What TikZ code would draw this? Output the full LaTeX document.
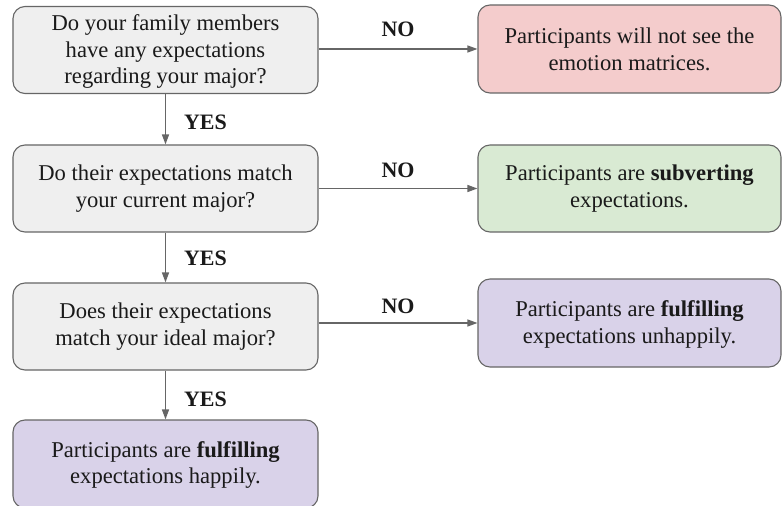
\documentclass[tikz,border=0pt]{standalone}
\usepackage{fontspec}
\setmainfont{Liberation Serif}
\usetikzlibrary{arrows.meta}
\definecolor{qgray}{HTML}{EFEFEF}
\definecolor{qred}{HTML}{F4CCCC}
\definecolor{qgreen}{HTML}{D9EAD3}
\definecolor{qpurple}{HTML}{D9D2E9}
\definecolor{edgegray}{HTML}{666666}
\definecolor{txt}{HTML}{1A1A1A}
\begin{document}
\begin{tikzpicture}[x=1bp,y=-1bp,
  box/.style={draw=edgegray, line width=1.1bp, rounded corners=12bp, inner sep=0pt},
  leftbox/.style={box, minimum width=305bp, minimum height=87bp},
  rightbox/.style={box, minimum width=303bp, minimum height=87bp},
  boxtext/.style={align=center, text=txt, inner sep=0pt, font=\fontsize{22.6bp}{26.7bp}\selectfont},
  conn/.style={draw=edgegray, line width=1.3bp, -{Triangle[length=10bp,width=7bp]}},
  lab/.style={font=\fontsize{22bp}{24bp}\selectfont\bfseries, text=txt, inner sep=0pt}
]
\useasboundingbox (0,0) rectangle (782,506);
\node[leftbox, fill=qgray] (b1) at (165.5,50) {};
\node[leftbox, fill=qgray] (b2) at (165.5,188.5) {};
\node[leftbox, fill=qgray] (b3) at (165.5,326.5) {};
\node[leftbox, fill=qpurple, minimum height=88bp] (b4) at (165.5,464) {};
\node[rightbox, fill=qred, minimum height=88bp] (r1) at (629.5,49) {};
\node[rightbox, fill=qgreen] (r2) at (629.5,188.5) {};
\node[rightbox, fill=qpurple, minimum height=88bp] (r3) at (629.5,323) {};
\node[boxtext] (t1) at ([yshift=-1.5bp]b1.center) {Do your family members\\have any expectations\\regarding your major?};
\node[boxtext] (t2) at (b2.center) {Do their expectations match\\your current major?};
\node[boxtext] (t3) at (b3.center) {Does their expectations\\match your ideal major?};
\node[boxtext] (t4) at ([yshift=-1bp]b4.center) {Participants are \textbf{fulfilling}\\expectations happily.};
\node[boxtext] (s1) at (r1.center) {Participants will not see the\\emotion matrices.};
\node[boxtext] (s2) at (r2.center) {Participants are \textbf{subverting}\\expectations.};
\node[boxtext] (s3) at ([yshift=-1.5bp]r3.center) {Participants are \textbf{fulfilling}\\expectations unhappily.};
\draw[conn] (r1.west -| b1.east) -- node[lab, midway, yshift=20bp] (n1) {NO} (r1.west);
\draw[conn] (r2.west -| b2.east) -- node[lab, midway, yshift=18bp] (n2) {NO} (r2.west);
\draw[conn] (r3.west -| b3.east) -- node[lab, midway, yshift=17bp] (n3) {NO} (r3.west);
\draw[conn] (b1.south) -- node[lab, midway, xshift=40bp, yshift=-3bp] (y1) {YES} (b2.north);
\draw[conn] (b2.south) -- node[lab, midway, xshift=40bp, yshift=-1bp] (y2) {YES} (b3.north);
\draw[conn] (b3.south) -- node[lab, midway, xshift=40bp, yshift=-4bp] (y3) {YES} (b4.north);
\end{tikzpicture}
\end{document}
